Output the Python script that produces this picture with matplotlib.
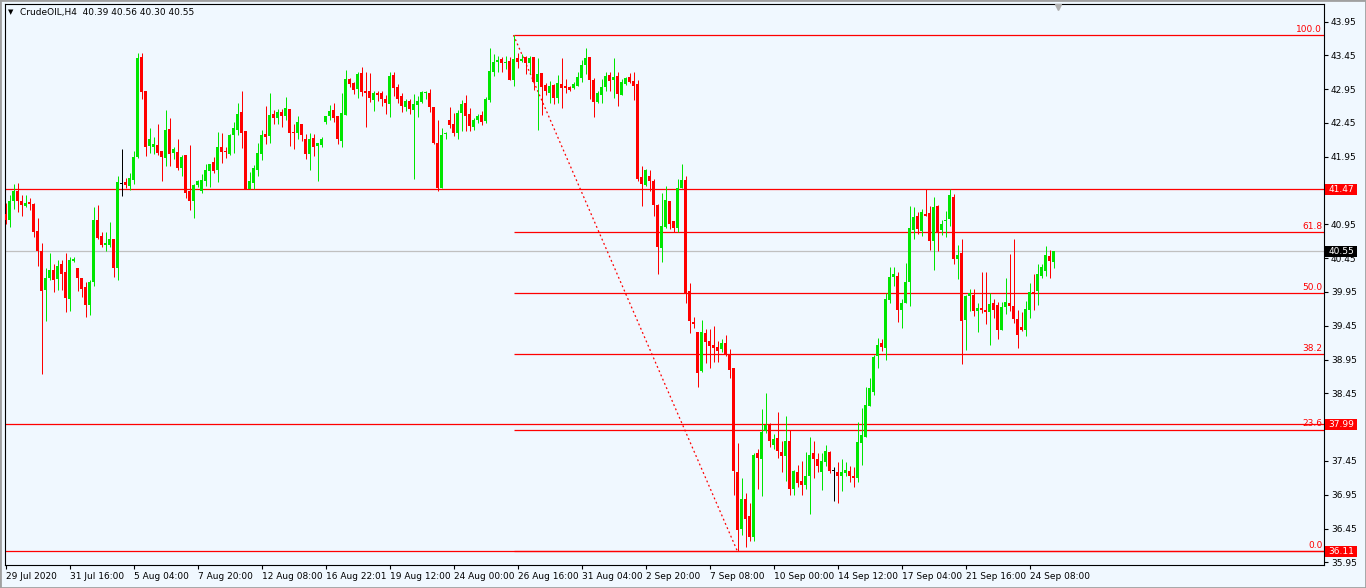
import matplotlib
matplotlib.use('Agg')
import matplotlib.pyplot as plt
from matplotlib.patches import Rectangle
from matplotlib.transforms import blended_transform_factory

# H4 candles, oldest first
opens = [
    41.10, 41.02, 41.29, 41.45, 41.29, 41.22, 41.28, 41.25, 40.85, 40.56,
    39.98, 40.15, 40.28, 40.14, 40.36, 40.25, 39.84, 40.41, 40.30, 40.16,
    40.02, 39.76, 40.09, 41.02, 40.78, 40.64, 40.64, 40.74, 40.31, 41.55,
    41.57, 41.52, 41.61, 41.95, 43.42, 42.93, 42.11, 42.10, 42.12, 42.03,
    41.93, 42.36, 42.01, 42.02, 41.78, 41.97, 41.44, 41.30, 41.53, 41.44,
    41.59, 41.74, 41.87, 41.76, 42.09, 42.03, 41.99, 42.27, 42.35, 42.61,
    42.33, 41.48, 41.56, 41.75, 41.99, 42.28, 42.25, 42.58, 42.52, 42.61,
    42.56, 42.65, 42.32, 42.30, 42.43, 42.22, 41.99, 42.23, 42.11, 42.13,
    42.46, 42.56, 42.64, 42.55, 42.19, 42.57, 43.10, 43.04, 42.95, 43.19,
    42.93, 42.92, 42.79, 42.89, 42.89, 42.81, 42.73, 43.16, 42.98, 42.85,
    42.69, 42.78, 42.64, 42.72, 42.76, 42.89, 42.90, 42.68, 42.16, 41.49,
    42.28, 42.49, 42.43, 42.30, 42.60, 42.75, 42.58, 42.39, 42.49, 42.57,
    42.48, 42.79, 43.21, 43.35, 43.40, 43.33, 43.36, 43.09, 43.41, 43.37,
    43.42, 43.34, 43.42, 43.05, 43.19, 43.01, 42.89, 43.01, 42.82, 43.02,
    43.00, 42.98, 42.96, 43.00, 43.11, 43.31, 43.43, 43.09, 42.76, 42.86,
    42.98, 43.16, 43.08, 43.14, 42.87, 43.02, 43.13, 43.07, 43.03, 41.65,
    41.53, 41.67, 41.59, 41.24, 40.60, 40.91, 41.29, 41.00, 40.89, 41.49,
    41.60, 39.97, 39.51, 39.35, 38.78, 39.34, 39.22, 39.17, 39.14, 39.10,
    39.19, 39.01, 38.82, 37.29, 36.45, 36.88, 36.64, 36.32, 37.56, 37.48,
    37.89, 38.00, 37.69, 37.79, 37.58, 37.52, 37.75, 37.04, 37.28, 37.15,
    37.10, 37.23, 37.56, 37.48, 37.29, 37.43, 37.58, 37.30, 37.29, 37.22,
    37.27, 37.30, 37.23, 37.19, 37.72, 37.81, 38.26, 38.47, 39.00, 39.19,
    39.12, 39.83, 40.17, 40.19, 39.69, 39.79, 40.10, 40.86, 41.07, 40.85,
    41.11, 41.12, 40.70, 41.22, 40.86, 41.00, 41.03, 41.36, 40.43, 40.52,
    39.53, 39.89, 39.91, 39.67, 39.71, 39.68, 39.66, 39.78, 39.75, 39.39,
    39.73, 39.78, 39.74, 39.55, 39.43, 39.39, 39.68, 39.95, 39.96, 40.19,
    40.26, 40.48, 40.39,
]
highs = [
    41.27, 41.39, 41.54, 41.56, 41.39, 41.39, 41.34, 41.27, 41.05, 40.68,
    40.30, 40.53, 40.37, 40.42, 40.42, 40.53, 40.46, 40.46, 40.30, 40.16,
    40.10, 40.12, 41.20, 41.24, 40.84, 40.83, 40.99, 40.74, 41.66, 42.06,
    41.63, 41.71, 42.04, 43.49, 43.48, 42.93, 42.37, 42.24, 42.43, 42.03,
    42.64, 42.52, 42.10, 42.21, 41.97, 41.97, 42.13, 41.55, 41.61, 41.69,
    41.85, 41.85, 41.94, 42.31, 42.30, 42.09, 42.28, 42.47, 42.74, 42.92,
    42.33, 41.73, 41.83, 42.15, 42.35, 42.70, 42.89, 42.64, 42.66, 42.65,
    42.84, 42.65, 42.43, 42.56, 42.43, 42.28, 42.30, 42.28, 42.16, 42.24,
    42.56, 42.71, 42.75, 42.55, 42.90, 43.23, 43.12, 43.05, 43.20, 43.28,
    43.20, 43.19, 42.92, 42.93, 42.92, 42.87, 43.21, 43.20, 43.02, 42.89,
    42.80, 42.81, 42.88, 42.85, 42.93, 42.93, 42.95, 42.68, 42.50, 42.37,
    42.31, 42.69, 42.60, 42.64, 42.79, 42.87, 42.67, 42.53, 42.58, 42.62,
    42.83, 43.56, 43.47, 43.44, 43.42, 43.44, 43.42, 43.75, 43.48, 43.47,
    43.44, 43.44, 43.42, 43.41, 43.19, 43.04, 43.07, 43.02, 43.16, 43.41,
    43.10, 43.00, 43.06, 43.20, 43.38, 43.56, 43.43, 43.11, 42.92, 43.10,
    43.21, 43.20, 43.41, 43.20, 43.10, 43.13, 43.19, 43.20, 43.09, 41.82,
    41.77, 41.76, 41.62, 41.25, 41.42, 41.52, 41.29, 41.00, 41.62, 41.85,
    41.67, 40.08, 39.58, 39.35, 39.53, 39.40, 39.40, 39.45, 39.22, 39.25,
    39.32, 39.10, 38.83, 37.72, 37.20, 36.97, 36.82, 37.57, 37.63, 38.22,
    38.45, 38.01, 37.85, 38.17, 37.75, 38.11, 37.91, 37.32, 37.39, 37.45,
    37.58, 37.80, 37.74, 37.57, 37.57, 37.68, 37.59, 37.36, 37.44, 37.48,
    37.44, 37.37, 37.36, 38.02, 38.23, 38.55, 38.67, 39.02, 39.27, 39.25,
    39.94, 40.32, 40.32, 40.25, 39.84, 40.38, 41.22, 41.20, 41.13, 41.18,
    41.48, 41.22, 41.36, 41.23, 41.02, 41.15, 41.48, 41.40, 40.64, 40.73,
    39.91, 39.99, 39.99, 39.78, 40.25, 40.25, 39.93, 39.84, 39.80, 39.80,
    40.15, 40.51, 40.73, 39.68, 39.65, 39.81, 40.08, 40.21, 40.36, 40.36,
    40.63, 40.57, 40.56,
]
lows = [
    40.95, 40.91, 41.17, 41.13, 41.07, 41.21, 41.16, 40.76, 40.33, 38.74,
    39.52, 40.13, 39.95, 39.98, 39.98, 39.65, 39.67, 40.39, 39.96, 39.87,
    39.58, 39.61, 40.04, 40.73, 40.61, 40.55, 40.62, 40.17, 40.13, 41.37,
    41.49, 41.46, 41.54, 41.93, 42.80, 41.96, 42.01, 41.99, 41.98, 41.59,
    41.82, 41.81, 41.91, 41.75, 41.67, 41.34, 41.16, 41.04, 41.50, 41.42,
    41.52, 41.50, 41.71, 41.58, 41.86, 41.93, 41.98, 42.00, 42.27, 42.08,
    41.47, 41.47, 41.47, 41.66, 41.90, 42.14, 42.15, 42.44, 42.43, 42.39,
    42.49, 42.11, 42.06, 42.21, 42.18, 41.91, 41.75, 41.96, 41.59, 42.10,
    42.43, 42.50, 42.46, 42.14, 42.09, 42.57, 42.98, 42.88, 42.82, 42.85,
    42.39, 42.76, 42.63, 42.78, 42.70, 42.58, 42.54, 42.85, 42.75, 42.61,
    42.63, 42.58, 41.62, 42.54, 42.75, 42.80, 42.61, 42.14, 41.44, 41.49,
    42.22, 42.37, 42.25, 42.21, 42.33, 42.33, 42.33, 42.35, 42.45, 42.42,
    42.45, 42.76, 43.15, 43.20, 43.20, 43.25, 43.09, 42.99, 43.26, 43.35,
    43.17, 43.17, 42.94, 42.35, 42.57, 42.87, 42.75, 42.73, 42.75, 42.67,
    42.89, 42.92, 42.95, 42.99, 43.05, 43.18, 42.81, 42.54, 42.75, 42.75,
    42.93, 42.93, 42.82, 42.70, 42.86, 43.01, 43.04, 42.79, 41.59, 41.22,
    41.52, 41.44, 41.07, 40.22, 40.39, 40.90, 40.88, 40.84, 40.84, 41.49,
    39.79, 39.34, 39.42, 38.55, 38.77, 38.90, 38.82, 38.91, 38.92, 39.06,
    39.00, 38.67, 36.95, 36.11, 36.35, 36.17, 36.27, 36.26, 37.04, 36.93,
    37.87, 37.66, 37.63, 37.50, 37.28, 37.16, 36.95, 36.95, 37.07, 36.95,
    37.04, 36.67, 37.20, 37.28, 37.02, 37.37, 37.27, 36.85, 36.83, 37.01,
    37.22, 37.14, 37.06, 37.14, 37.39, 37.81, 38.26, 38.43, 38.83, 39.07,
    38.94, 39.79, 40.04, 39.50, 39.41, 39.78, 39.74, 40.73, 40.80, 40.78,
    41.08, 40.57, 40.28, 40.56, 40.79, 40.77, 40.93, 40.36, 40.14, 38.88,
    39.09, 39.67, 39.59, 39.36, 39.64, 39.48, 39.17, 39.57, 39.26, 39.39,
    39.62, 39.67, 39.49, 39.12, 39.37, 39.30, 39.57, 39.68, 39.75, 40.16,
    40.19, 40.16, 40.30,
]
closes = [
    41.02, 41.29, 41.45, 41.29, 41.24, 41.26, 41.25, 40.84, 40.55, 39.96,
    40.16, 40.28, 40.13, 40.34, 40.22, 39.86, 40.42, 40.44, 40.15, 39.99,
    39.76, 40.09, 41.01, 40.75, 40.64, 40.67, 40.73, 40.31, 41.57, 41.55,
    41.53, 41.63, 41.95, 43.41, 42.91, 42.10, 42.21, 42.14, 42.01, 41.94,
    42.35, 41.99, 42.06, 41.78, 41.95, 41.42, 41.30, 41.53, 41.59, 41.60,
    41.76, 41.85, 41.74, 42.09, 42.02, 42.02, 42.27, 42.37, 42.58, 42.30,
    41.48, 41.59, 41.78, 42.01, 42.27, 42.24, 42.57, 42.52, 42.61, 42.55,
    42.67, 42.30, 42.30, 42.47, 42.27, 41.99, 42.22, 42.09, 42.15, 42.21,
    42.56, 42.63, 42.52, 42.22, 42.59, 43.10, 43.02, 42.94, 43.17, 42.91,
    42.89, 42.82, 42.90, 42.86, 42.80, 42.74, 43.15, 42.97, 42.81, 42.70,
    42.78, 42.65, 42.73, 42.78, 42.91, 42.91, 42.68, 42.16, 41.49, 42.27,
    42.29, 42.42, 42.30, 42.60, 42.73, 42.55, 42.41, 42.49, 42.55, 42.46,
    42.80, 43.22, 43.35, 43.38, 43.34, 43.35, 43.09, 43.40, 43.35, 43.40,
    43.34, 43.41, 43.06, 43.18, 42.98, 42.93, 43.00, 42.82, 43.04, 42.97,
    42.97, 42.94, 43.03, 43.13, 43.31, 43.41, 43.09, 42.76, 42.89, 42.98,
    43.14, 43.07, 43.13, 42.88, 43.06, 43.11, 43.06, 43.00, 41.62, 41.54,
    41.76, 41.59, 41.24, 40.61, 40.93, 41.31, 40.95, 40.89, 41.49, 41.60,
    39.94, 39.52, 39.48, 38.75, 39.35, 39.21, 39.15, 39.12, 39.07, 39.19,
    39.02, 38.79, 37.30, 36.43, 36.89, 36.59, 36.33, 37.54, 37.50, 37.88,
    37.98, 37.75, 37.77, 37.59, 37.53, 37.75, 37.04, 37.30, 37.13, 37.10,
    37.23, 37.54, 37.48, 37.37, 37.45, 37.59, 37.30, 37.30, 37.22, 37.29,
    37.32, 37.23, 37.19, 37.73, 37.84, 38.27, 38.53, 38.99, 39.17, 39.13,
    39.85, 40.17, 40.22, 39.69, 39.79, 40.10, 40.89, 41.06, 40.88, 41.13,
    41.08, 40.70, 41.21, 40.84, 40.96, 41.02, 41.38, 40.43, 40.50, 39.52,
    39.89, 39.93, 39.67, 39.71, 39.68, 39.65, 39.77, 39.69, 39.39, 39.73,
    39.80, 39.74, 39.55, 39.32, 39.39, 39.70, 39.95, 39.93, 40.21, 40.32,
    40.49, 40.41, 40.55,
]

date_labels = ['29 Jul 2020', '31 Jul 16:00', '5 Aug 04:00', '7 Aug 20:00',
               '12 Aug 08:00', '16 Aug 22:01', '19 Aug 12:00', '24 Aug 00:00',
               '26 Aug 16:00', '31 Aug 04:00', '2 Sep 20:00', '7 Sep 08:00',
               '10 Sep 00:00', '14 Sep 12:00', '17 Sep 04:00', '21 Sep 16:00',
               '24 Sep 08:00']
price_ticks = [35.95, 36.45, 36.95, 37.45, 37.95, 38.45, 38.95, 39.45,
               39.95, 40.45, 40.95, 41.45, 41.95, 42.45, 42.95, 43.45, 43.95]

fib_high = 43.75
fib_low = 36.11
fib_from = 127
fib_to = 183
fib_levels = [0.0, 23.6, 38.2, 50.0, 61.8, 100.0]
red_lines = [41.47, 37.99, 36.11]
bid = 40.55

BG = '#F0F8FF'
UP = '#00E600'
DOWN = '#FF0000'
FS = 6.5

W, H = 1366, 588
fig = plt.figure(figsize=(W / 100, H / 100), dpi=100)
fig.patch.set_facecolor(BG)
ax = fig.add_axes([5 / W, 23 / H, 1319 / W, 561 / H])
ax.set_facecolor(BG)

# 4 px per bar, bar centres on pixel centres
x_left = -0.125
x_right = x_left + 1319 / 4
ax.set_xlim(x_left, x_right)
ax.set_ylim(35.91, 44.21)

# candles: 1px wick, 3px body
cols = []
for o, c in zip(opens, closes):
    if c > o:
        cols.append(UP)
    elif c < o:
        cols.append(DOWN)
    else:
        cols.append('black')
xs = list(range(len(opens)))
ax.vlines(xs, lows, highs, colors=cols, linewidths=0.72, zorder=3)
bodies = [max(abs(c - o), 0.016) for o, c in zip(opens, closes)]
bottoms = [min(o, c) for o, c in zip(opens, closes)]
ax.bar(xs, bodies, bottom=bottoms, width=0.75, color=cols, lw=0, zorder=3)

# horizontal levels
for p in red_lines:
    ax.axhline(p, color=DOWN, lw=0.9, zorder=2)
ax.axhline(bid, color='#C0C0C0', lw=0.9, zorder=1)

# fibonacci
for lv in fib_levels:
    p = fib_low + (fib_high - fib_low) * lv / 100
    ax.hlines(p, fib_from, x_right, color=DOWN, lw=0.9, zorder=2)
    ax.text(329.2, p + 0.02, '%.1f' % lv, color=DOWN, fontsize=FS,
            ha='right', va='bottom', zorder=4)
ax.plot([fib_from, fib_to], [fib_high, fib_low], color=DOWN, lw=0.9,
        dashes=(1.5, 2.2), zorder=2)

# axes / ticks
for s in ax.spines.values():
    s.set_color('black')
    s.set_linewidth(0.8)
ax.yaxis.tick_right()
ax.set_yticks(price_ticks)
# 41.45 and 37.95 sit under the price boxes, as in the terminal
ax.set_yticklabels(['' if v in (41.45, 37.95) else '%.2f' % v
                    for v in price_ticks])
ax.tick_params(axis='y', length=3, width=0.8, pad=2, labelsize=FS)
ax.set_xticks(range(0, 16 * len(date_labels), 16))
ax.set_xticklabels(date_labels)
ax.tick_params(axis='x', length=3, width=0.8, pad=2, labelsize=FS)
for lab in ax.get_xticklabels():
    lab.set_horizontalalignment('left')

# price boxes on the right scale
tr = blended_transform_factory(fig.transFigure, ax.transData)
px = 67.6
for p, fc in [(41.47, DOWN), (37.99, DOWN), (36.11, DOWN), (bid, 'black')]:
    ax.add_patch(Rectangle((1325 / W, p - 5.5 / px), 32 / W, 11 / px,
                           transform=tr, fc=fc, ec='none', clip_on=False,
                           zorder=10))
    ax.text(1341 / W, p, '%.2f' % p, transform=tr, color='white',
            fontsize=FS, ha='center', va='center', clip_on=False, zorder=11)

# header
fig.text(8 / W, 1 - 12 / H, '\u25bc', fontsize=5, va='center')
fig.text(20 / W, 1 - 12 / H, 'CrudeOIL,H4  40.39 40.56 40.30 40.55',
         fontsize=FS, va='center')
ax.plot([263.2], [0.994], marker='v', ms=5, color='#B0B0B0',
        transform=blended_transform_factory(ax.transData, ax.transAxes),
        clip_on=False, zorder=5)

fig.add_artist(Rectangle((0, 0), 1, 1, transform=fig.transFigure,
                         fill=False, ec='#A0A0A0', lw=2))

fig.savefig('out.png', dpi=100, facecolor=BG)
